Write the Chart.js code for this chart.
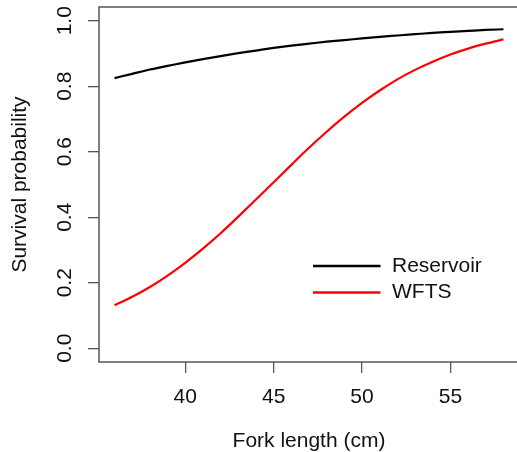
<!DOCTYPE html>
<html>
<head>
<meta charset="utf-8">
<script src="https://cdn.jsdelivr.net/npm/chart.js@4"></script>
<style>
  html, body { margin: 0; padding: 0; overflow: hidden; background: #fff; }
  #wrap { width: 524px; height: 452px; position: relative; }
</style>
</head>
<body>
<div id="wrap"><canvas id="c"></canvas></div>
<script>
// Data
const forkLength = [36,37,38,39,40,41,42,43,44,45,46,47,48,49,50,51,52,53,54,55,56,57,58];
const reservoir = [0.825,0.838,0.851,0.862,0.873,0.883,0.892,0.901,0.909,0.917,0.924,0.930,0.936,0.941,0.946,0.951,0.955,0.959,0.963,0.966,0.969,0.972,0.974];
const wfts = [0.131,0.157,0.187,0.222,0.261,0.304,0.351,0.402,0.454,0.507,0.560,0.612,0.661,0.707,0.749,0.787,0.821,0.850,0.875,0.897,0.915,0.930,0.943];
const seriesNames = ['Reservoir', 'WFTS'];
const seriesColors = ['#000000', '#ff0000'];
const xTicks = [40, 45, 50, 55];
const yTicks = [0, 0.2, 0.4, 0.6, 0.8, 1.0];

const FONT = 'Arial, "Liberation Sans", Arimo, sans-serif';
const TXT = '#111111';
const AXC = '#555555';

const toPts = ys => forkLength.map((x, i) => ({x: x, y: ys[i]}));

const boxPlugin = {
  id: 'box',
  afterDraw(chart) {
    const {ctx, chartArea: a} = chart;
    ctx.save();
    ctx.strokeStyle = AXC;
    ctx.lineWidth = 1.5;
    ctx.strokeRect(a.left, a.top, a.right - a.left, a.bottom - a.top);
    ctx.restore();
  }
};

const legendPlugin = {
  id: 'rlegend',
  afterDraw(chart) {
    const {ctx} = chart;
    ctx.save();
    ctx.font = '21px ' + FONT;
    ctx.textBaseline = 'middle';
    ctx.textAlign = 'left';
    chart.data.datasets.forEach((ds, i) => {
      const y = 266 + i * 26.5;
      ctx.strokeStyle = ds.borderColor;
      ctx.lineWidth = 2.5;
      ctx.beginPath();
      ctx.moveTo(313, y);
      ctx.lineTo(380.5, y);
      ctx.stroke();
      ctx.fillStyle = TXT;
      ctx.fillText(ds.label, 392, y);
    });
    ctx.restore();
  }
};

new Chart(document.getElementById('c'), {
  type: 'line',
  data: {
    datasets: [
      { label: seriesNames[0], data: toPts(reservoir), borderColor: seriesColors[0], borderWidth: 2.2, pointRadius: 0, cubicInterpolationMode: 'monotone', fill: false },
      { label: seriesNames[1], data: toPts(wfts), borderColor: seriesColors[1], borderWidth: 2.2, pointRadius: 0, cubicInterpolationMode: 'monotone', fill: false }
    ]
  },
  options: {
    responsive: true,
    maintainAspectRatio: false,
    animation: false,
    events: [],
    layout: { padding: { top: 7, left: 0, right: 5, bottom: 0 } },
    plugins: { legend: { display: false }, tooltip: { enabled: false } },
    scales: {
      x: {
        type: 'linear',
        min: 35.12,
        max: 58.88,
        afterBuildTicks: s => { s.ticks = xTicks.map(v => ({value: v})); },
        afterFit: s => { s.height = 90; s.paddingLeft = 0; s.paddingRight = 0; },
        grid: { display: true, drawOnChartArea: false, drawTicks: true, tickLength: 11, color: AXC, lineWidth: 1.3 },
        border: { display: false },
        ticks: { color: TXT, font: { family: FONT, size: 21, lineHeight: 1 }, padding: 14, maxRotation: 0, autoSkip: false, callback: v => String(v) },
        title: { display: true, text: 'Fork length (cm)', color: TXT, font: { family: FONT, size: 21, lineHeight: 1 }, padding: { top: 0, bottom: 0.5 } }
      },
      y: {
        type: 'linear',
        min: -0.042,
        max: 1.042,
        afterBuildTicks: s => { s.ticks = yTicks.map(v => ({value: v})); },
        afterFit: s => { s.width = 99; s.paddingTop = 0; s.paddingBottom = 0; },
        grid: { display: true, drawOnChartArea: false, drawTicks: true, tickLength: 11, color: AXC, lineWidth: 1.3 },
        border: { display: false },
        ticks: { color: TXT, font: { family: FONT, size: 21 }, padding: 8.4, minRotation: 90, maxRotation: 90, crossAlign: 'center', autoSkip: false, callback: v => Number(v).toFixed(1) },
        title: { display: true, text: 'Survival probability', color: TXT, font: { family: FONT, size: 21, lineHeight: 1 }, padding: { top: 9.7, bottom: 0 } }
      }
    }
  },
  plugins: [boxPlugin, legendPlugin]
});
</script>
</body>
</html>
